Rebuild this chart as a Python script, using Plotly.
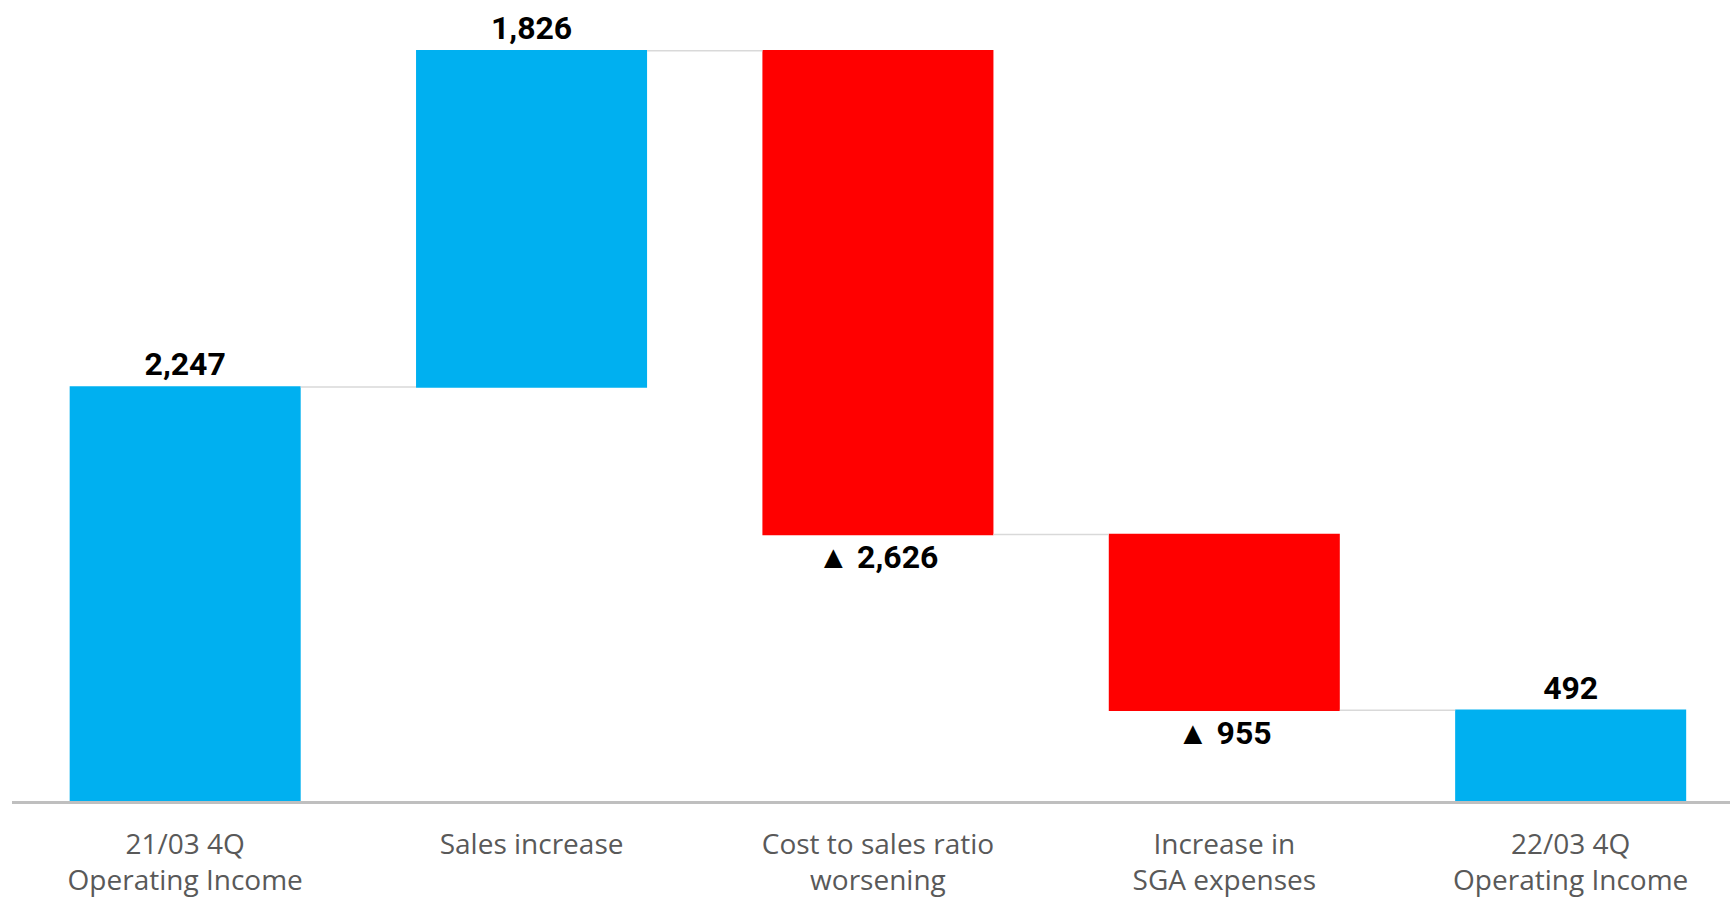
import plotly.graph_objects as go

categories = ["21/03 4Q<br>Operating Income", "Sales increase", "Cost to sales ratio<br>worsening",
              "Increase in<br>SGA expenses", "22/03 4Q<br>Operating Income"]
values = [2247, 1826, -2626, -955, 492]
measures = ["absolute", "relative", "relative", "relative", "total"]
labels = ["2,247", "1,826", "▲ 2,626", "▲ 955", "492"]

BLUE = "#00B0F0"
RED = "#FF0000"

fig = go.Figure(go.Waterfall(
    x=categories,
    y=values,
    measure=measures,
    text=labels,
    textposition="outside",
    textfont=dict(family="Roboto", size=32, color="#000000", weight="bold"),
    increasing=dict(marker=dict(color=BLUE)),
    decreasing=dict(marker=dict(color=RED)),
    totals=dict(marker=dict(color=BLUE)),
    connector=dict(line=dict(color="#D9D9D9", width=1.5)),
    width=0.667,
    cliponaxis=False,
))

fig.update_layout(
    width=1730, height=898,
    margin=dict(l=12, r=0, t=0, b=97),
    paper_bgcolor="white", plot_bgcolor="white",
    showlegend=False,
    xaxis=dict(range=[-0.5, 4.46], showline=True, linecolor="#BFBFBF", linewidth=3,
               ticks="outside", ticklen=16, tickcolor="rgba(0,0,0,0)",
               tickfont=dict(family="Open Sans", size=28, color="#595959"),
               showgrid=False, zeroline=False),
    yaxis=dict(range=[0, 4348], visible=False, showgrid=False, zeroline=False),
)

fig.write_html("out.html")
